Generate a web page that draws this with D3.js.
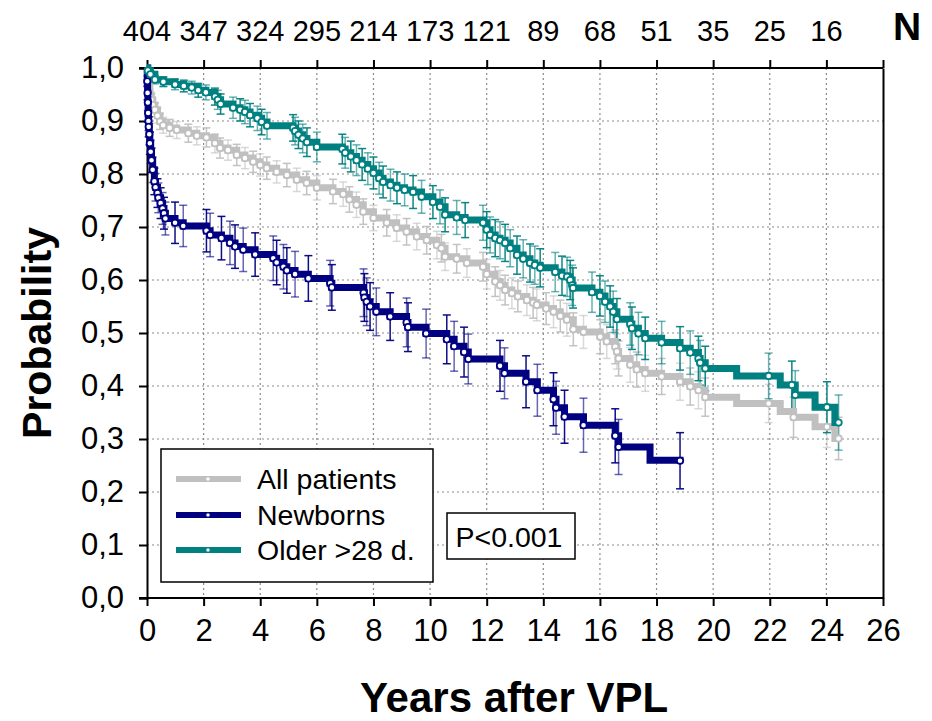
<!DOCTYPE html>
<html><head><meta charset="utf-8">
<script src="https://cdn.jsdelivr.net/npm/d3@7/dist/d3.min.js"></script>
<style>
html,body{margin:0;padding:0;background:#fff;}
svg text{font-family:"Liberation Sans",Arial,sans-serif;fill:#000;}
</style></head>
<body>
<svg id="chart" width="932" height="721"></svg>
<script>
// ---------- data ----------
const xTickValues = [0,2,4,6,8,10,12,14,16,18,20,22,24,26];
const yTickValues = [0,0.1,0.2,0.3,0.4,0.5,0.6,0.7,0.8,0.9,1.0];
const atRiskTimes = [0,2,4,6,8,10,12,14,16,18,20,22,24];
const atRiskN = [404,347,324,295,214,173,121,89,68,51,35,25,16];
const seriesNames = ["All patients","Newborns","Older >28 d."];
const seriesColors = ["#c0c0c0","#000080","#008080"];

// [years, survival, CI half-width (null = step only, no marker)]
const allPatients = [
[0,1.0,null],[0.03,0.98,0.006],[0.06,0.965,0.008],[0.1,0.949,0.01],[0.15,0.94,0.011],
[0.2,0.93,0.012],[0.28,0.921,0.013],[0.37,0.91,0.014],[0.46,0.899,0.015],[0.57,0.892,0.015],
[0.8,0.887,0.016],[1.05,0.883,0.016],[1.46,0.877,0.017],[1.76,0.872,0.017],[2.1,0.869,0.018],
[2.4,0.858,0.018],[2.58,0.849,0.019],[2.86,0.845,0.019],[3.17,0.836,0.02],[3.46,0.83,0.02],
[3.75,0.823,0.02],[4.0,0.817,0.021],[4.23,0.811,0.021],[4.58,0.804,0.021],[4.94,0.798,0.022],
[5.29,0.789,0.022],[5.64,0.783,0.022],[6.0,0.774,0.023],[6.57,0.767,0.023],[6.93,0.762,0.023],
[7.15,0.752,0.024],[7.4,0.742,0.024],[7.64,0.729,0.024],[8.0,0.717,0.024],[8.47,0.708,0.025],
[8.82,0.698,0.025],[9.17,0.691,0.025],[9.53,0.682,0.025],[9.88,0.675,0.026],[10.24,0.666,0.026],
[10.4,0.66,0.026],[10.53,0.644,0.026],[10.94,0.64,0.027],[11.3,0.632,0.027],[11.87,0.625,0.027],
[12.0,0.611,0.028],[12.3,0.597,0.028],[12.47,0.59,0.028],[12.65,0.581,0.028],[12.89,0.575,0.029],
[13.1,0.569,0.029],[13.42,0.562,0.029],[13.64,0.557,0.029],[13.77,0.553,0.03],[14.1,0.546,0.03],
[14.36,0.54,0.03],[14.6,0.532,0.03],[14.83,0.525,0.031],[15.06,0.507,0.031],[15.42,0.502,0.031],
[16.01,0.493,0.032],[16.24,0.484,0.032],[16.54,0.474,0.032],[16.6,0.465,0.033],[16.66,0.452,0.033],
[17.07,0.44,0.033],[17.3,0.431,0.033],[17.6,0.424,0.034],[18.18,0.418,0.034],[18.83,0.408,0.035],
[19.19,0.399,0.035],[19.48,0.392,0.035],[19.72,0.379,0.036],[20.83,0.367,null],[21.96,0.367,0.036],
[22.37,0.352,null],[22.84,0.341,0.038],[23.6,0.323,null],[24.02,0.323,0.039],[24.3,0.301,null],
[24.43,0.301,0.04]
];
const newborns = [
[0,1.0,null],[0.01,0.975,0.01],[0.02,0.953,0.013],[0.03,0.935,0.015],[0.04,0.915,0.017],
[0.05,0.9,0.018],[0.06,0.889,0.019],[0.08,0.875,0.02],[0.1,0.858,0.021],[0.13,0.842,0.022],
[0.16,0.826,0.023],[0.2,0.808,0.024],[0.26,0.786,0.025],[0.3,0.775,0.026],[0.37,0.764,0.027],
[0.4,0.755,0.028],[0.48,0.745,0.029],[0.55,0.735,0.03],[0.6,0.726,0.03],[0.65,0.716,0.031],
[0.99,0.708,0.039],[1.28,0.702,0.039],[2.1,0.693,0.04],[2.23,0.685,0.041],[2.63,0.679,0.041],
[2.93,0.67,0.041],[3.11,0.663,0.041],[3.4,0.657,0.041],[3.82,0.648,0.041],[4.46,0.641,0.042],
[4.58,0.633,0.042],[4.82,0.625,0.042],[4.94,0.618,0.043],[5.23,0.611,0.043],[5.7,0.603,0.043],
[6.47,0.594,0.043],[6.53,0.586,0.043],[7.65,0.576,0.045],[7.68,0.567,0.045],[7.76,0.559,0.045],
[7.88,0.55,0.045],[8.1,0.54,0.045],[8.59,0.531,0.045],[9.17,0.52,0.046],[9.22,0.511,0.046],
[9.86,0.499,0.046],[10.59,0.488,0.046],[10.85,0.475,0.047],[11.2,0.464,0.047],[11.35,0.451,0.047],
[12.47,0.438,0.048],[12.63,0.424,0.048],[13.39,0.408,0.049],[13.79,0.392,0.049],[14.36,0.375,0.05],
[14.45,0.359,0.05],[14.75,0.342,0.05],[15.42,0.326,0.051],[16.54,0.306,0.051],[16.66,0.285,0.052],
[17.77,0.26,null],[18.83,0.259,0.053]
];
const older28d = [
[0,1.0,null],[0.03,0.995,0.005],[0.12,0.988,0.006],[0.28,0.978,0.008],[0.58,0.974,0.009],
[0.99,0.969,0.01],[1.3,0.966,0.011],[1.58,0.963,0.012],[1.81,0.958,0.013],[2.08,0.954,0.014],
[2.4,0.946,0.016],[2.5,0.94,0.018],[2.6,0.932,0.019],[3.04,0.925,0.02],[3.29,0.921,0.021],
[3.46,0.917,0.022],[3.64,0.911,0.022],[3.9,0.905,0.023],[4.05,0.898,0.024],[4.24,0.891,0.025],
[5.16,0.887,0.025],[5.23,0.881,0.026],[5.35,0.874,0.026],[5.5,0.867,0.027],[5.65,0.86,0.027],
[6.0,0.851,0.028],[6.9,0.847,0.028],[7.0,0.84,0.029],[7.2,0.833,0.029],[7.4,0.826,0.029],
[7.6,0.818,0.03],[7.8,0.81,0.03],[8.0,0.802,0.03],[8.2,0.792,0.03],[8.34,0.785,0.03],
[8.6,0.779,0.03],[8.83,0.774,0.03],[9.1,0.77,0.03],[9.4,0.766,0.031],[9.7,0.757,0.031],
[10.1,0.747,0.031],[10.35,0.738,0.032],[10.53,0.723,0.032],[10.94,0.718,0.032],[11.24,0.713,0.033],
[11.87,0.708,0.033],[12.0,0.695,0.034],[12.12,0.685,0.034],[12.3,0.679,0.035],[12.47,0.675,0.035],
[12.65,0.67,0.035],[12.83,0.66,0.035],[13.07,0.647,0.036],[13.29,0.64,0.036],[13.53,0.632,0.036],
[13.7,0.628,0.036],[13.89,0.623,0.036],[14.42,0.615,0.037],[14.66,0.608,0.037],[14.84,0.606,0.037],
[14.95,0.6,0.037],[15.02,0.59,0.038],[15.05,0.585,0.038],[15.72,0.577,0.038],[16.0,0.57,0.038],
[16.18,0.559,0.039],[16.36,0.55,0.039],[16.47,0.54,0.039],[16.6,0.526,0.039],[17.07,0.517,0.04],
[17.13,0.509,0.04],[17.36,0.499,0.04],[17.6,0.49,0.04],[18.18,0.482,0.04],[18.83,0.471,0.041],
[19.19,0.463,0.041],[19.48,0.452,0.042],[19.54,0.444,0.042],[19.72,0.433,0.042],[20.83,0.419,null],
[21.96,0.419,0.043],[22.37,0.402,null],[22.78,0.402,0.045],[22.9,0.383,0.046],[23.6,0.36,null],
[24.02,0.36,0.048],[24.3,0.331,null],[24.43,0.331,0.052]
];
const seriesData = [allPatients, newborns, older28d];

// ---------- drawing ----------
const svg = d3.select("#chart");
const x = d3.scaleLinear().domain([0,26]).range([147,883]);
const y = d3.scaleLinear().domain([0,1]).range([598,68]);

// grid
const grid = svg.append("g");
grid.selectAll("line.v").data(xTickValues.filter(v=>v>0&&v<26)).join("line")
  .attr("x1",d=>x(d)).attr("x2",d=>x(d)).attr("y1",y(1)).attr("y2",y(0))
  .attr("stroke","#8a8a8a").attr("stroke-width",1.2).attr("stroke-dasharray","2,3");
grid.selectAll("line.h").data(yTickValues.filter(v=>v>0&&v<1)).join("line")
  .attr("x1",x(0)).attr("x2",x(26)).attr("y1",d=>y(d)).attr("y2",d=>y(d))
  .attr("stroke","#8a8a8a").attr("stroke-width",1.2).attr("stroke-dasharray","2,3");

// axes
const fmt = d => d3.format(".1f")(d).replace(".",",");
const gx = svg.append("g").attr("transform",`translate(0,${y(0)})`)
  .call(d3.axisBottom(x).tickValues(xTickValues).tickSize(8).tickPadding(13).tickFormat(d3.format("d")));
const gxt = svg.append("g").attr("transform",`translate(0,${y(1)})`)
  .call(d3.axisTop(x).tickValues(xTickValues).tickSize(8).tickFormat(""));
const gy = svg.append("g").attr("transform",`translate(${x(0)},0)`)
  .call(d3.axisLeft(y).tickValues(yTickValues).tickSize(8).tickPadding(15).tickFormat(fmt));
const gyr = svg.append("g").attr("transform",`translate(${x(26)},0)`)
  .call(d3.axisRight(y).tickValues([]).tickSize(0));
[gx,gxt,gy,gyr].forEach(g=>{
  g.select(".domain").attr("stroke","#000").attr("stroke-width",2);
  g.selectAll(".tick line").attr("stroke","#000").attr("stroke-width",2);
  g.selectAll(".tick text").attr("font-size",31).attr("font-family","Liberation Sans, Arial, sans-serif");
});
gx.select(".domain").attr("d",`M${x(0)-8},0H${x(26)}`);
gxt.select(".domain").attr("d",`M${x(0)-8},0H${x(26)}`);

// error bars
const bars = svg.append("g");
seriesData.forEach((data,si)=>{
  const pts = data.filter(d=>d[2]!==null);
  const g = bars.append("g").attr("stroke",seriesColors[si]).attr("stroke-width",1.5);
  pts.forEach((d,i)=>{
    const op = i%2 ? 0.95 : 0.6;
    const xx = x(d[0]), y1 = y(d[1]-d[2]), y2 = y(d[1]+d[2]);
    g.append("line").attr("x1",xx).attr("x2",xx).attr("y1",y1).attr("y2",y2).attr("stroke-opacity",op);
    g.append("line").attr("x1",xx-4).attr("x2",xx+4).attr("y1",y1).attr("y2",y1).attr("stroke-opacity",op);
    g.append("line").attr("x1",xx-4).attr("x2",xx+4).attr("y1",y2).attr("y2",y2).attr("stroke-opacity",op);
  });
});

// lines + markers
const line = d3.line().x(d=>x(d[0])).y(d=>y(d[1])).curve(d3.curveStepAfter);
seriesData.forEach((data,si)=>{
  svg.append("path").datum(data).attr("d",line).attr("fill","none")
    .attr("stroke",seriesColors[si]).attr("stroke-width",7).attr("stroke-linejoin","miter");
  svg.append("g").selectAll("circle").data(data.filter(d=>d[2]!==null)).join("circle")
    .attr("cx",d=>x(d[0])).attr("cy",d=>y(d[1])).attr("r",3.2)
    .attr("fill","#fff").attr("stroke",seriesColors[si]).attr("stroke-width",1.8);
});

// at-risk numbers
svg.append("g").selectAll("text").data(atRiskTimes).join("text")
  .attr("x",d=>x(d)).attr("y",41).attr("text-anchor","middle")
  .attr("font-size",29).attr("font-family","Liberation Sans Narrow, Arial Narrow, sans-serif")
  .text((d,i)=>atRiskN[i]);
svg.append("text").attr("x",907).attr("y",40).attr("text-anchor","middle")
  .attr("font-size",39).attr("font-weight","bold").text("N");

// axis titles
svg.append("text").attr("transform","translate(51,333) rotate(-90)").attr("text-anchor","middle")
  .attr("font-size",41).attr("font-weight","bold").text("Probability");
svg.append("text").attr("x",514).attr("y",712).attr("text-anchor","middle")
  .attr("font-size",42).attr("font-weight","bold").text("Years after VPL");

// legend
const lg = svg.append("g");
lg.append("rect").attr("x",161).attr("y",449).attr("width",272).attr("height",133)
  .attr("fill","#fff").attr("stroke","#000").attr("stroke-width",1.5);
const rowsY = [479,515,550];
seriesNames.forEach((n,i)=>{
  lg.append("line").attr("x1",176).attr("x2",241).attr("y1",rowsY[i]).attr("y2",rowsY[i])
    .attr("stroke",seriesColors[i]).attr("stroke-width",6);
  lg.append("circle").attr("cx",208).attr("cy",rowsY[i]).attr("r",2.2)
    .attr("fill","#fff").attr("stroke",seriesColors[i]).attr("stroke-width",1);
  lg.append("text").attr("x",257).attr("y",rowsY[i]+10).attr("font-size",28.5).text(n);
});

// p-value box
svg.append("rect").attr("x",447).attr("y",513).attr("width",128).attr("height",46)
  .attr("fill","#fff").attr("stroke","#000").attr("stroke-width",1.5);
svg.append("text").attr("x",509).attr("y",547).attr("text-anchor","middle").attr("font-size",28.5).text("P<0.001");
</script>
</body></html>
